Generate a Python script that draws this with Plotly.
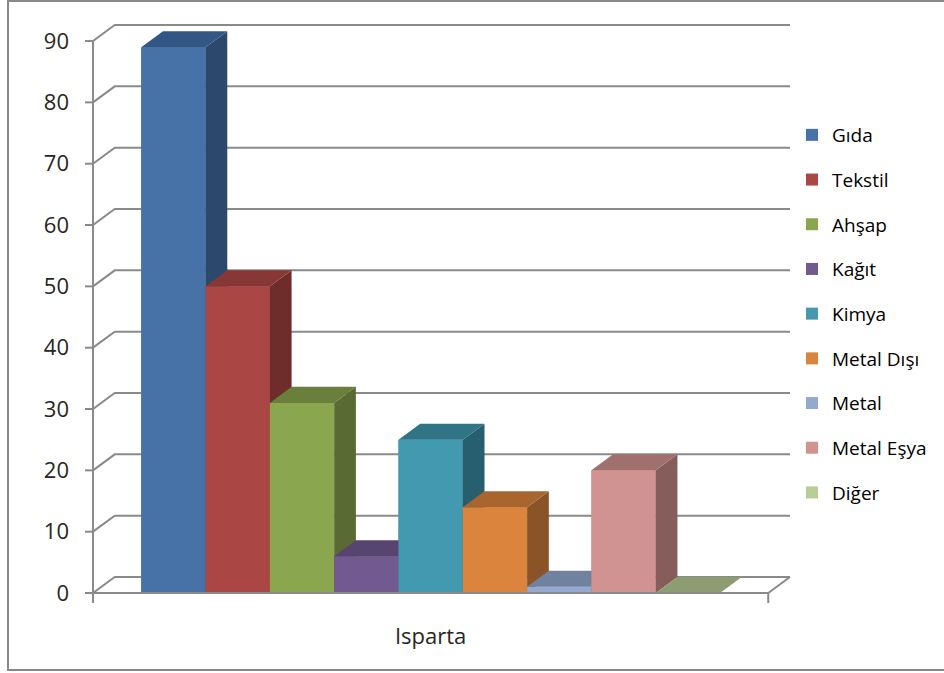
import plotly.graph_objects as go

# ---- data ----
categories = ["Isparta"]
series_names = ["Gıda", "Tekstil", "Ahşap", "Kağıt", "Kimya",
                "Metal Dışı", "Metal", "Metal Eşya", "Diğer"]
values = [89, 50, 31, 6, 25, 14, 1, 20, 0]
y_ticks = [0, 10, 20, 30, 40, 50, 60, 70, 80, 90]

# ---- styles ----
front_colors = ["#4672A8", "#AA4744", "#8AA64F", "#72598F", "#4299B0",
                "#DB843D", "#93A9D0", "#D19392", "#B9CD96"]
top_colors = ["#335785", "#873836", "#6A7F3B", "#574570", "#307486",
              "#A9652E", "#71829F", "#A0706F", "#8D9D71"]
side_colors = ["#2C496D", "#6E2C2A", "#596B33", "#4A3A5E", "#285F6E",
               "#8B5328", "#5F6D85", "#875D5C", "#768360"]

FONT = "Open Sans"
GRID = "#8A8A8A"

# 3-D geometry (in axis units): Excel gap width 150% -> 0.75 bar each side
GAP = 0.75
DX = 0.338     # depth shift along x (bar units)
DY = 2.61      # depth shift along y (value units)
n = len(values)
xL = -0.5 - GAP
xR = n - 0.5 + GAP
PXX = 64.3     # px per x unit (approx) for small pixel offsets
PXY = 6.133    # px per y unit

fig = go.Figure()

# real bars (used for legend; covered by the 3-D faces drawn above them)
for i, (name, v) in enumerate(zip(series_names, values)):
    fig.add_trace(go.Bar(
        x=[i], y=[v], width=1, name=name, legendgroup=name,
        marker=dict(color=front_colors[i], line=dict(width=0)),
        hoverinfo="skip"))

# back-wall gridlines with diagonals
gx, gy = [], []
for v in y_ticks:
    gx += [xL, xL + DX, xR + DX, None]
    gy += [v, v + DY, v + DY, None]
# right edge of the floor
gx += [xR, xR + DX, None]
gy += [0, DY, None]
fig.add_trace(go.Scatter(x=gx, y=gy, mode="lines", showlegend=False,
                         line=dict(color=GRID, width=2), hoverinfo="skip"))

# 3-D faces, drawn left to right for proper occlusion
for i, v in enumerate(values):
    x0, x1 = i - 0.5, i + 0.5
    faces = [
        ([x0, x1, x1, x0, x0], [0, 0, v, v, 0], front_colors[i]),
        ([x1, x1 + DX, x1 + DX, x1, x1], [0, DY, v + DY, v, 0], side_colors[i]),
        ([x0, x1, x1 + DX, x0 + DX, x0], [v, v, v + DY, v + DY, v], top_colors[i]),
    ]
    for fx, fy, col in faces:
        fig.add_trace(go.Scatter(x=fx, y=fy, mode="lines", fill="toself",
                                 fillcolor=col, line=dict(width=0, color=col),
                                 showlegend=False, hoverinfo="skip"))

# front axis lines and tick marks
ax, ay = [], []
ax += [xL, xL, None]
ay += [-10 / PXY, y_ticks[-1], None]
ax += [xL, xR, None]
ay += [0, 0, None]
ax += [xR, xR, None]
ay += [0, -10 / PXY, None]
for v in y_ticks:
    ax += [xL - 8 / PXX, xL, None]
    ay += [v, v, None]
fig.add_trace(go.Scatter(x=ax, y=ay, mode="lines", showlegend=False,
                         line=dict(color=GRID, width=2), hoverinfo="skip"))

L, T, B = 83, 22, 603
R = 793
fig.update_layout(
    width=944, height=673,
    margin=dict(l=L, r=944 - R, t=T, b=673 - B, pad=0),
    paper_bgcolor="white", plot_bgcolor="white",
    barmode="overlay",
    font=dict(family=FONT, color="#222222"),
    xaxis=dict(range=[xL - 10 / PXX, xR + DX + 3 / PXX],
               tickvals=[(n - 1) / 2], ticktext=categories,
               ticks="", showgrid=False, zeroline=False, showline=False,
               tickfont=dict(size=22, family=FONT, color="#262626"),
               ticklabelstandoff=18, fixedrange=True),
    yaxis=dict(range=[-10 / PXY, (B - T) / PXY - 10 / PXY],
               tickvals=y_ticks, ticks="", showgrid=False, zeroline=False,
               showline=False,
               tickfont=dict(size=22, family=FONT, color="#262626"),
               ticklabelstandoff=13, fixedrange=True),
    legend=dict(x=(792 - L) / (R - L), xanchor="left",
                y=(B - 116) / (B - T), yanchor="top",
                font=dict(size=19, family=FONT, color="#000000"),
                tracegroupgap=17, bgcolor="rgba(0,0,0,0)",
                itemclick=False, itemdoubleclick=False),
    showlegend=True,
    shapes=[dict(type="rect", xref="paper", yref="paper",
                 x0=(8 - L) / (R - L), x1=(947 - L) / (R - L),
                 y0=(B - 670) / (B - T), y1=(B - 1) / (B - T),
                 line=dict(color="#898989", width=2), fillcolor="rgba(0,0,0,0)",
                 layer="below")],
)

fig.write_html("out.html")
